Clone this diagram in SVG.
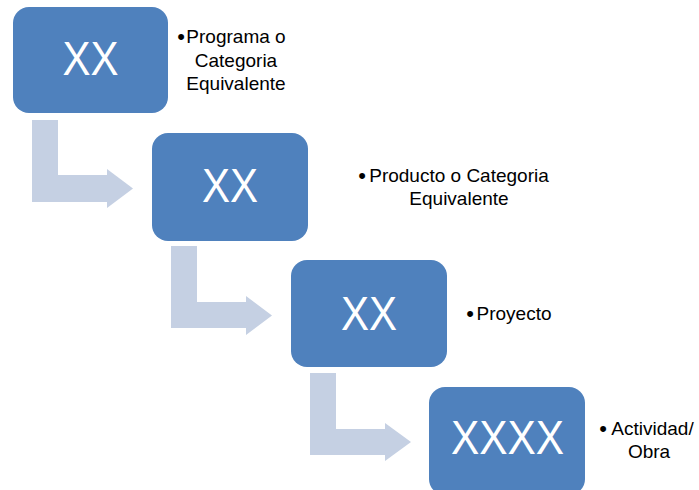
<svg xmlns="http://www.w3.org/2000/svg" width="699" height="490" viewBox="0 0 699 490">
<style>
.box{fill:#4F81BD}
.arr{fill:#C5D0E3}
.big{font-family:"Liberation Sans",Arial,sans-serif;font-size:48px;fill:#FFFFFF;text-anchor:middle}
.lbl{font-family:"Liberation Sans",Arial,sans-serif;font-size:19px;fill:#000000;text-anchor:middle}
.bul{font-family:"Liberation Sans",Arial,sans-serif;font-size:22px;fill:#000000;text-anchor:end}
</style>
<rect width="699" height="490" fill="#FFFFFF"/>
<g id="connectors">
<path class="arr" d="M32,120 H58 V175 H107 V169 L133,188.5 L107,208 V202 H32 Z"/>
<path class="arr" d="M171,246 H197 V302 H246 V296 L272,315.5 L246,335 V328 H171 Z"/>
<path class="arr" d="M310,373 H336 V429 H385 V423 L411,442 L385,461 V455 H310 Z"/>
</g>
<g id="node1">
<rect class="box" x="13" y="7" width="155" height="106" rx="16"/>
<text class="big" x="90.5" y="75" textLength="56" lengthAdjust="spacingAndGlyphs">XX</text>
</g>
<g id="label1">
<text class="bul" x="185" y="44">•</text>
<text class="lbl" x="236" y="43">Programa o</text>
<text class="lbl" x="236" y="67">Categoria</text>
<text class="lbl" x="236" y="90">Equivalente</text>
</g>
<g id="node2">
<rect class="box" x="152" y="133" width="156" height="108" rx="16"/>
<text class="big" x="230" y="202" textLength="56" lengthAdjust="spacingAndGlyphs">XX</text>
</g>
<g id="label2">
<text class="bul" x="366" y="183">•</text>
<text class="lbl" x="459" y="182">Producto o Categoria</text>
<text class="lbl" x="459" y="205">Equivalente</text>
</g>
<g id="node3">
<rect class="box" x="291" y="260" width="156" height="107" rx="16"/>
<text class="big" x="369" y="330" textLength="56" lengthAdjust="spacingAndGlyphs">XX</text>
</g>
<g id="label3">
<text class="bul" x="474" y="321">•</text>
<text class="lbl" x="514" y="320">Proyecto</text>
</g>
<g id="node4">
<rect class="box" x="429" y="387" width="156" height="108" rx="16"/>
<text class="big" x="507.5" y="454" textLength="113" lengthAdjust="spacingAndGlyphs">XXXX</text>
</g>
<g id="label4">
<text class="bul" x="607" y="436">•</text>
<text class="lbl" x="652.5" y="435">Actividad/</text>
<text class="lbl" x="649" y="458">Obra</text>
</g>
</svg>
